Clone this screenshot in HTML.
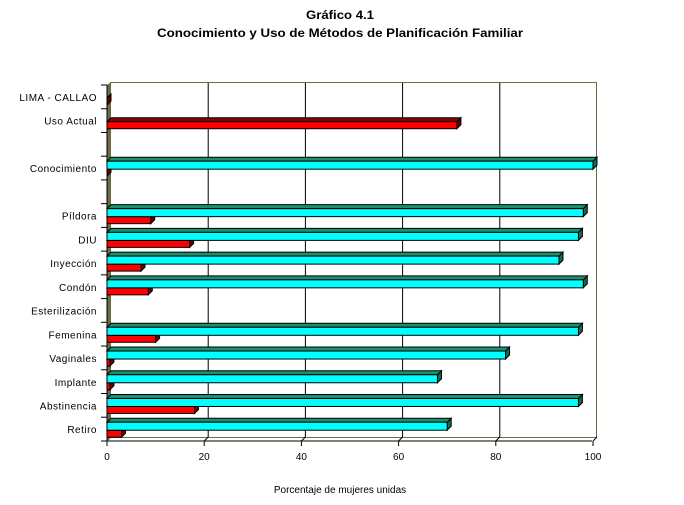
<!DOCTYPE html>
<html><head><meta charset="utf-8"><style>
html,body{margin:0;padding:0;background:#fff;}
svg{display:block;font-family:"Liberation Sans",Arial,sans-serif;}
</style></head><body>
<svg id="s" width="684" height="505" xmlns="http://www.w3.org/2000/svg">
<text x="340" y="19" text-anchor="middle" font-size="12" font-weight="bold" textLength="68" lengthAdjust="spacingAndGlyphs">Gráfico 4.1</text>
<text x="340" y="37" text-anchor="middle" font-size="12" font-weight="bold" textLength="366" lengthAdjust="spacingAndGlyphs">Conocimiento y Uso de Métodos de Planificación Familiar</text>
<rect x="110.5" y="82.5" width="486" height="355" fill="#fff" stroke="#6b6b47" stroke-width="1"/>
<polygon points="107,85 111,82 111,437 107,441" fill="#6b6b47"/>
<g id="grid"></g>
<line x1="107" y1="441" x2="592" y2="441" stroke="#000"/>
<line x1="107" y1="441" x2="111" y2="437" stroke="#6b6b47"/>
<line x1="107" y1="85" x2="107" y2="441" stroke="#000"/>
<g id="bars"></g>
<g id="labels" font-size="10" text-anchor="end" letter-spacing="0.5"></g>
<g id="ticks" font-size="10" text-anchor="middle"></g>
<text x="340" y="493" text-anchor="middle" font-size="10">Porcentaje de mujeres unidas</text>
</svg>
<script>
var NS="http://www.w3.org/2000/svg";
function el(p,t,a,txt){var e=document.createElementNS(NS,t);for(var k in a)e.setAttribute(k,a[k]);if(txt!=null)e.textContent=txt;document.getElementById(p).appendChild(e);}
var sc=4.86,x0=107;
for(var i=0;i<=5;i++){var v=i*20,xb=111+v*sc,xf=x0+v*sc;
 if(i>0&&i<5)el("grid","line",{x1:xb,y1:83,x2:xb,y2:437,stroke:"#000"});
 if(i>0)el("grid","line",{x1:xf,y1:441,x2:xf+4,y2:437,stroke:"#000"});
 el("grid","line",{x1:xf,y1:441,x2:xf,y2:446,stroke:"#000"});
 el("ticks","text",{x:xf,y:460},String(v));}
var cats=[["LIMA - CALLAO",null,0],["Uso Actual",null,72],["",null,null],["Conocimiento",100,0],["",null,null],
["Píldora",98,9],["DIU",97,17],["Inyección",93,7],["Condón",98,8.5],["Esterilización",null,null],
["Femenina",97,10],["Vaginales",82,0.6],["Implante",68,0.6],["Abstinencia",97,18],["Retiro",70,3]];
var st=23.73;
function bar(y,h,v,f,t,s){var x1=x0+v*sc;
 el("bars","polygon",{points:x1+","+y+" "+(x1+4)+","+(y-4)+" "+(x1+4)+","+(y+h-4)+" "+x1+","+(y+h),fill:s,stroke:"#000","stroke-width":1});
 el("bars","polygon",{points:x0+","+y+" "+(x0+4)+","+(y-4)+" "+(x1+4)+","+(y-4)+" "+x1+","+y,fill:t,stroke:"#000","stroke-width":1});
 el("bars","rect",{x:x0,y:y,width:v*sc,height:h,fill:f,stroke:"#000","stroke-width":1});}
for(var i=0;i<cats.length;i++){var c=97+st*i,cb=85+st*i;
 el("grid","line",{x1:101,y1:cb,x2:107,y2:cb,stroke:"#000"});
 if(i==14)el("grid","line",{x1:101,y1:441,x2:107,y2:441,stroke:"#000"});
 var lab=cats[i][0];var ly=c+4;
 if(lab)el("labels","text",{x:97,y:ly},lab);
 if(cats[i][2]!=null)bar(c+1,7,cats[i][2],"#ff0000","#8b0000","#6a0000");
 if(cats[i][1]!=null)bar(c-7,8,cats[i][1],"#00ffff","#1a9070","#0f6a52");}
</script>
</body></html>
